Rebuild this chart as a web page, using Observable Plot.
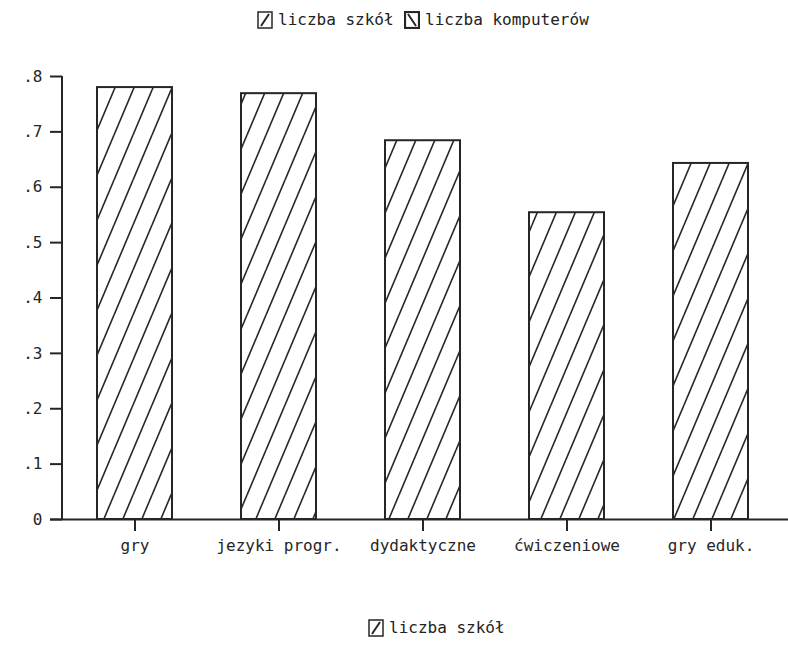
<!DOCTYPE html>
<html>
<head>
<meta charset="utf-8">
<script src="https://cdn.jsdelivr.net/npm/d3@7"></script>
<script src="https://cdn.jsdelivr.net/npm/@observablehq/plot@0.6"></script>
<style>
  html, body { margin: 0; padding: 0; background: #fff; }
  body { width: 788px; height: 648px; overflow: hidden; font-family: "DejaVu Sans Mono", monospace; color: #222; }
  .legend { position: relative; width: 788px; }
  .item { position: absolute; display: flex; align-items: center; font-size: 16px; white-space: pre; }
  .item svg { margin-right: 5px; }
  #chart svg { display: block; }
</style>
</head>
<body>
<div id="topLegend" class="legend" style="height:45px"></div>
<div id="chart"></div>
<div id="bottomLegend" class="legend" style="height:48px"></div>
<script>
const categories = ["gry", "jezyki progr.", "dydaktyczne", "ćwiczeniowe", "gry eduk."];
const values = [0.780, 0.769, 0.684, 0.554, 0.643];
const yTicks = [0, 0.1, 0.2, 0.3, 0.4, 0.5, 0.6, 0.7, 0.8];
const seriesNames = ["liczba szkół", "liczba komputerów"];

const ink = "#262626";
const data = categories.map((c, i) => ({cat: c, val: values[i]}));

function swatch(dir) {
  const w = 16, h = 18;
  const line = dir === "/" ? `x1="4" y1="${h-3}" x2="${w-4}" y2="3"` : `x1="4" y1="3" x2="${w-4}" y2="${h-3}"`;
  return `<svg width="${w}" height="${h}"><rect x="1" y="1" width="${w-2}" height="${h-2}" fill="#fff" stroke="${ink}" stroke-width="${dir === "/" ? 1.5 : 2.2}"/><line ${line} stroke="${ink}" stroke-width="2"/></svg>`;
}

const topDiv = document.getElementById("topLegend");
topDiv.innerHTML =
  `<div class="item" style="left:257px;top:10px">${swatch("/")}${seriesNames[0]}</div>` +
  `<div class="item" style="left:404px;top:10px">${swatch("\\")}${seriesNames[1]}</div>`;
const bottomDiv = document.getElementById("bottomLegend");
bottomDiv.innerHTML = `<div class="item" style="left:368px;top:18px">${swatch("/")}${seriesNames[0]}</div>`;

const plot = Plot.plot({
  width: 788,
  height: 555,
  marginLeft: 62,
  marginRight: 0,
  marginTop: 31,
  marginBottom: 81,
  style: {fontFamily: "DejaVu Sans Mono, monospace", fontSize: "16px", color: ink, background: "#fff"},
  x: {domain: categories, range: [62, 783], paddingInner: 0.48, paddingOuter: 0.24, label: null},
  y: {domain: [0, 0.8], label: null},
  marks: [
    Plot.barY(data, {x: "cat", y: "val", fill: "url(#hatch)", stroke: ink, strokeWidth: 2}),
    Plot.ruleY([0], {stroke: ink, strokeWidth: 2, insetLeft: -12}),
    (index, scales) => {
      const g = d3.create("svg:g");
      g.append("line")
        .attr("x1", 62).attr("x2", 62)
        .attr("y1", scales.y(0.8)).attr("y2", scales.y(0))
        .attr("stroke", ink).attr("stroke-width", 2);
      return g.node();
    },
    Plot.axisY({ticks: yTicks, tickSize: 12, tickPadding: 8, strokeWidth: 2, stroke: ink, fill: ink,
      tickFormat: d => d === 0 ? "0" : d.toFixed(1).replace(/^0/, "")}),
    Plot.axisX({tickSize: 12, tickPadding: 8, strokeWidth: 2, stroke: ink, fill: ink})
  ]
});

const defs = d3.select(plot).insert("defs", ":first-child");
const pat = defs.append("pattern")
  .attr("id", "hatch").attr("patternUnits", "userSpaceOnUse")
  .attr("width", 19).attr("height", 45);
pat.append("rect").attr("width", 19).attr("height", 45).attr("fill", "#fff");
[[0, 45, 19, 0], [-19, 45, 0, 0], [19, 45, 38, 0]].forEach(([x1, y1, x2, y2]) =>
  pat.append("line").attr("x1", x1).attr("y1", y1).attr("x2", x2).attr("y2", y2)
    .attr("stroke", ink).attr("stroke-width", 1.6));

document.getElementById("chart").appendChild(plot);
</script>
</body>
</html>
